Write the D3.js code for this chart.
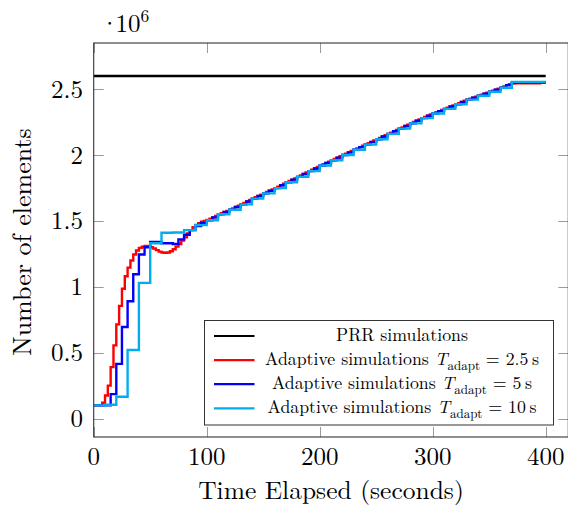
<!DOCTYPE html>
<html lang="en">
<head>
    <meta charset="UTF-8">
    <title>Number of elements over time</title>
    <script src="https://d3js.org/d3.v7.min.js"></script>
    <style>
        body { margin: 0; background: #fff; }
    </style>
</head>
<body>
    <script>
        // data (values in millions of elements)
        const prrTimes = [0, 400];
        const prrValues = [2.6, 2.6];

        // adaptive, T_adapt = 2.5 s (one value every 2.5 s, from t = 0)
        const redStep = 2.5;
        const redValues = [
            0.10, 0.10, 0.10, 0.12, 0.175, 0.25, 0.39, 0.555, 0.715, 0.855,
            0.985, 1.08, 1.145, 1.20, 1.245, 1.275, 1.295, 1.305, 1.31, 1.31,
            1.30, 1.29, 1.278, 1.267, 1.26, 1.257, 1.26, 1.27, 1.285, 1.305,
            1.325, 1.35, 1.375, 1.405, 1.43, 1.452, 1.47, 1.483, 1.493, 1.50,
            1.507, 1.517, 1.527, 1.538, 1.55, 1.559, 1.567, 1.576, 1.585, 1.595,
            1.605, 1.615, 1.625, 1.636, 1.647, 1.658, 1.669, 1.679, 1.689, 1.699,
            1.709, 1.719, 1.729, 1.739, 1.749, 1.76, 1.771, 1.782, 1.793, 1.803,
            1.813, 1.823, 1.834, 1.845, 1.856, 1.867, 1.878, 1.888, 1.898, 1.909,
            1.92, 1.93, 1.94, 1.95, 1.96, 1.97, 1.98, 1.99, 2.00, 2.01,
            2.02, 2.03, 2.04, 2.05, 2.06, 2.07, 2.08, 2.09, 2.10, 2.11,
            2.12, 2.13, 2.14, 2.15, 2.16, 2.17, 2.18, 2.19, 2.20, 2.21,
            2.22, 2.23, 2.24, 2.25, 2.26, 2.27, 2.28, 2.289, 2.298, 2.307,
            2.315, 2.324, 2.333, 2.342, 2.35, 2.359, 2.368, 2.377, 2.385, 2.394,
            2.403, 2.412, 2.42, 2.428, 2.435, 2.443, 2.45, 2.458, 2.465, 2.473,
            2.48, 2.488, 2.495, 2.503, 2.51, 2.52, 2.53, 2.538, 2.543, 2.545,
            2.545, 2.545, 2.545, 2.545, 2.545, 2.545, 2.545, 2.545, 2.548, 2.55,
            2.55
        ];

        // adaptive, T_adapt = 5 s
        const blueStep = 5;
        const blueValues = [
            0.10, 0.10, 0.10, 0.185, 0.415, 0.695, 0.89, 1.095, 1.245, 1.30,
            1.34, 1.34, 1.33, 1.33, 1.325, 1.36, 1.395, 1.43, 1.46, 1.485,
            1.505, 1.527, 1.55, 1.567, 1.585, 1.605, 1.625, 1.647, 1.669, 1.689,
            1.709, 1.729, 1.749, 1.771, 1.793, 1.813, 1.834, 1.856, 1.878, 1.898,
            1.92, 1.94, 1.96, 1.98, 2.00, 2.02, 2.04, 2.06, 2.08, 2.10,
            2.12, 2.14, 2.16, 2.18, 2.20, 2.22, 2.24, 2.26, 2.28, 2.298,
            2.315, 2.333, 2.35, 2.368, 2.385, 2.403, 2.42, 2.435, 2.45, 2.465,
            2.48, 2.495, 2.51, 2.53, 2.548, 2.55, 2.55, 2.55, 2.55, 2.55,
            2.55
        ];

        // adaptive, T_adapt = 10 s
        const cyanStep = 10;
        const cyanValues = [
            0.10, 0.105, 0.165, 0.52, 1.03, 1.33, 1.41, 1.412, 1.43, 1.468,
            1.505, 1.55, 1.585, 1.625, 1.669, 1.709, 1.749, 1.793, 1.834, 1.878,
            1.92, 1.96, 2.00, 2.04, 2.08, 2.12, 2.16, 2.20, 2.24, 2.28,
            2.315, 2.35, 2.385, 2.42, 2.45, 2.48, 2.51, 2.555, 2.555, 2.555,
            2.555
        ];

        const xTicks = [0, 100, 200, 300, 400];
        const yTicks = [0, 0.5, 1, 1.5, 2, 2.5];

        const series = [
            { name: "PRR simulations", color: "#000000",
              points: prrTimes.map((t, i) => [t, prrValues[i]]) },
            { name: "2.5", color: "#ff0000",
              points: redValues.map((v, i) => [i * redStep, v]) },
            { name: "5", color: "#0000ff",
              points: blueValues.map((v, i) => [i * blueStep, v]) },
            { name: "10", color: "#00aeef",
              points: cyanValues.map((v, i) => [i * cyanStep, v]) }
        ];

        const width = 568, height = 506;
        const plotLeft = 93.7, plotRight = 568.3, plotTop = 43, plotBottom = 437;
        const fontFamily = "'Latin Modern Roman', 'Liberation Serif'";

        const x = d3.scaleLinear().domain([0, 420]).range([plotLeft, plotRight]);
        const y = d3.scaleLinear().domain([-0.14, 2.85]).range([plotBottom, plotTop]);

        const svg = d3.select("body").append("svg")
            .attr("width", width)
            .attr("height", height);

        // every text gets the font set on itself
        function label(sel) {
            return sel.append("text").style("font-family", fontFamily).attr("fill", "#000");
        }

        svg.append("defs").append("clipPath").attr("id", "plot")
            .append("rect")
            .attr("x", plotLeft).attr("y", plotTop)
            .attr("width", plotRight - plotLeft).attr("height", plotBottom - plotTop);

        // ticks (inside, mirrored on all four sides)
        const tickLen = 10;
        const ticks = svg.append("g").attr("stroke", "#9a9a9a").attr("stroke-width", 1);
        xTicks.forEach(t => {
            const px = Math.round(x(t)) + 0.5;
            ticks.append("line").attr("x1", px).attr("x2", px).attr("y1", plotBottom).attr("y2", plotBottom - tickLen);
            ticks.append("line").attr("x1", px).attr("x2", px).attr("y1", plotTop).attr("y2", plotTop + tickLen);
        });
        yTicks.forEach(t => {
            const py = Math.round(y(t)) + 0.5;
            ticks.append("line").attr("x1", plotLeft).attr("x2", plotLeft + tickLen).attr("y1", py).attr("y2", py);
            ticks.append("line").attr("x1", plotRight).attr("x2", plotRight - tickLen).attr("y1", py).attr("y2", py);
        });

        // data lines
        const line = d3.line()
            .x(d => x(d[0]))
            .y(d => y(d[1]))
            .curve(d3.curveStepAfter);

        svg.append("g").attr("clip-path", "url(#plot)")
            .selectAll("path")
            .data(series)
            .enter().append("path")
            .attr("d", d => line(d.points))
            .attr("fill", "none")
            .attr("stroke", d => d.color)
            .attr("stroke-width", 2.4)
            .attr("stroke-linejoin", "miter");

        // axis frame
        svg.append("rect")
            .attr("x", plotLeft).attr("y", plotTop)
            .attr("width", plotRight - plotLeft).attr("height", plotBottom - plotTop)
            .attr("fill", "none")
            .attr("stroke", "#333")
            .attr("stroke-width", 1.1);

        // tick labels
        const xLabels = svg.append("g");
        xTicks.forEach(t => {
            label(xLabels)
                .attr("x", x(t))
                .attr("y", 465)
                .attr("text-anchor", "middle")
                .attr("font-size", 25)
                .text(t);
        });

        const yLabels = svg.append("g");
        yTicks.forEach(t => {
            label(yLabels)
                .attr("x", 83)
                .attr("y", y(t) + 8.5)
                .attr("text-anchor", "end")
                .attr("font-size", 25)
                .text(t);
        });

        // axis titles
        label(svg)
            .attr("x", 331)
            .attr("y", 499)
            .attr("text-anchor", "middle")
            .attr("font-size", 25.5)
            .text("Time Elapsed (seconds)");

        label(svg)
            .attr("transform", "translate(31,242) rotate(-90)")
            .attr("text-anchor", "middle")
            .attr("font-size", 26)
            .text("Number of elements");

        // scale factor, one flowing text
        const sf = label(svg).attr("x", 100).attr("y", 32).attr("font-size", 25);
        sf.append("tspan").attr("letter-spacing", -4).text("\u00b7");
        sf.append("tspan").text("10");
        sf.append("tspan").attr("font-size", 17.5).attr("dy", -10).text("6");

        // legend
        const lg = svg.append("g");
        lg.append("rect")
            .attr("x", 204.5).attr("y", 320.5)
            .attr("width", 349).attr("height", 104.5)
            .attr("fill", "#fff")
            .attr("stroke", "#333")
            .attr("stroke-width", 1);

        series.forEach((s, i) => {
            const ry = 336 + i * 24.1;
            lg.append("line")
                .attr("x1", 214).attr("x2", 254.5)
                .attr("y1", ry).attr("y2", ry)
                .attr("stroke", s.color)
                .attr("stroke-width", 2.2);
            const t = label(lg)
                .attr("x", 402)
                .attr("y", ry + 5)
                .attr("text-anchor", "middle")
                .attr("font-size", 17.8);
            if (i === 0) {
                t.text(s.name);
            } else {
                t.append("tspan").text("Adaptive simulations ");
                t.append("tspan").attr("font-style", "italic").text("T");
                t.append("tspan").attr("font-size", 13).attr("dy", 4.5).text("adapt");
                t.append("tspan").attr("dy", -4.5).text(" = " + s.name + "\u2009s");
            }
        });
    </script>
</body>
</html>
